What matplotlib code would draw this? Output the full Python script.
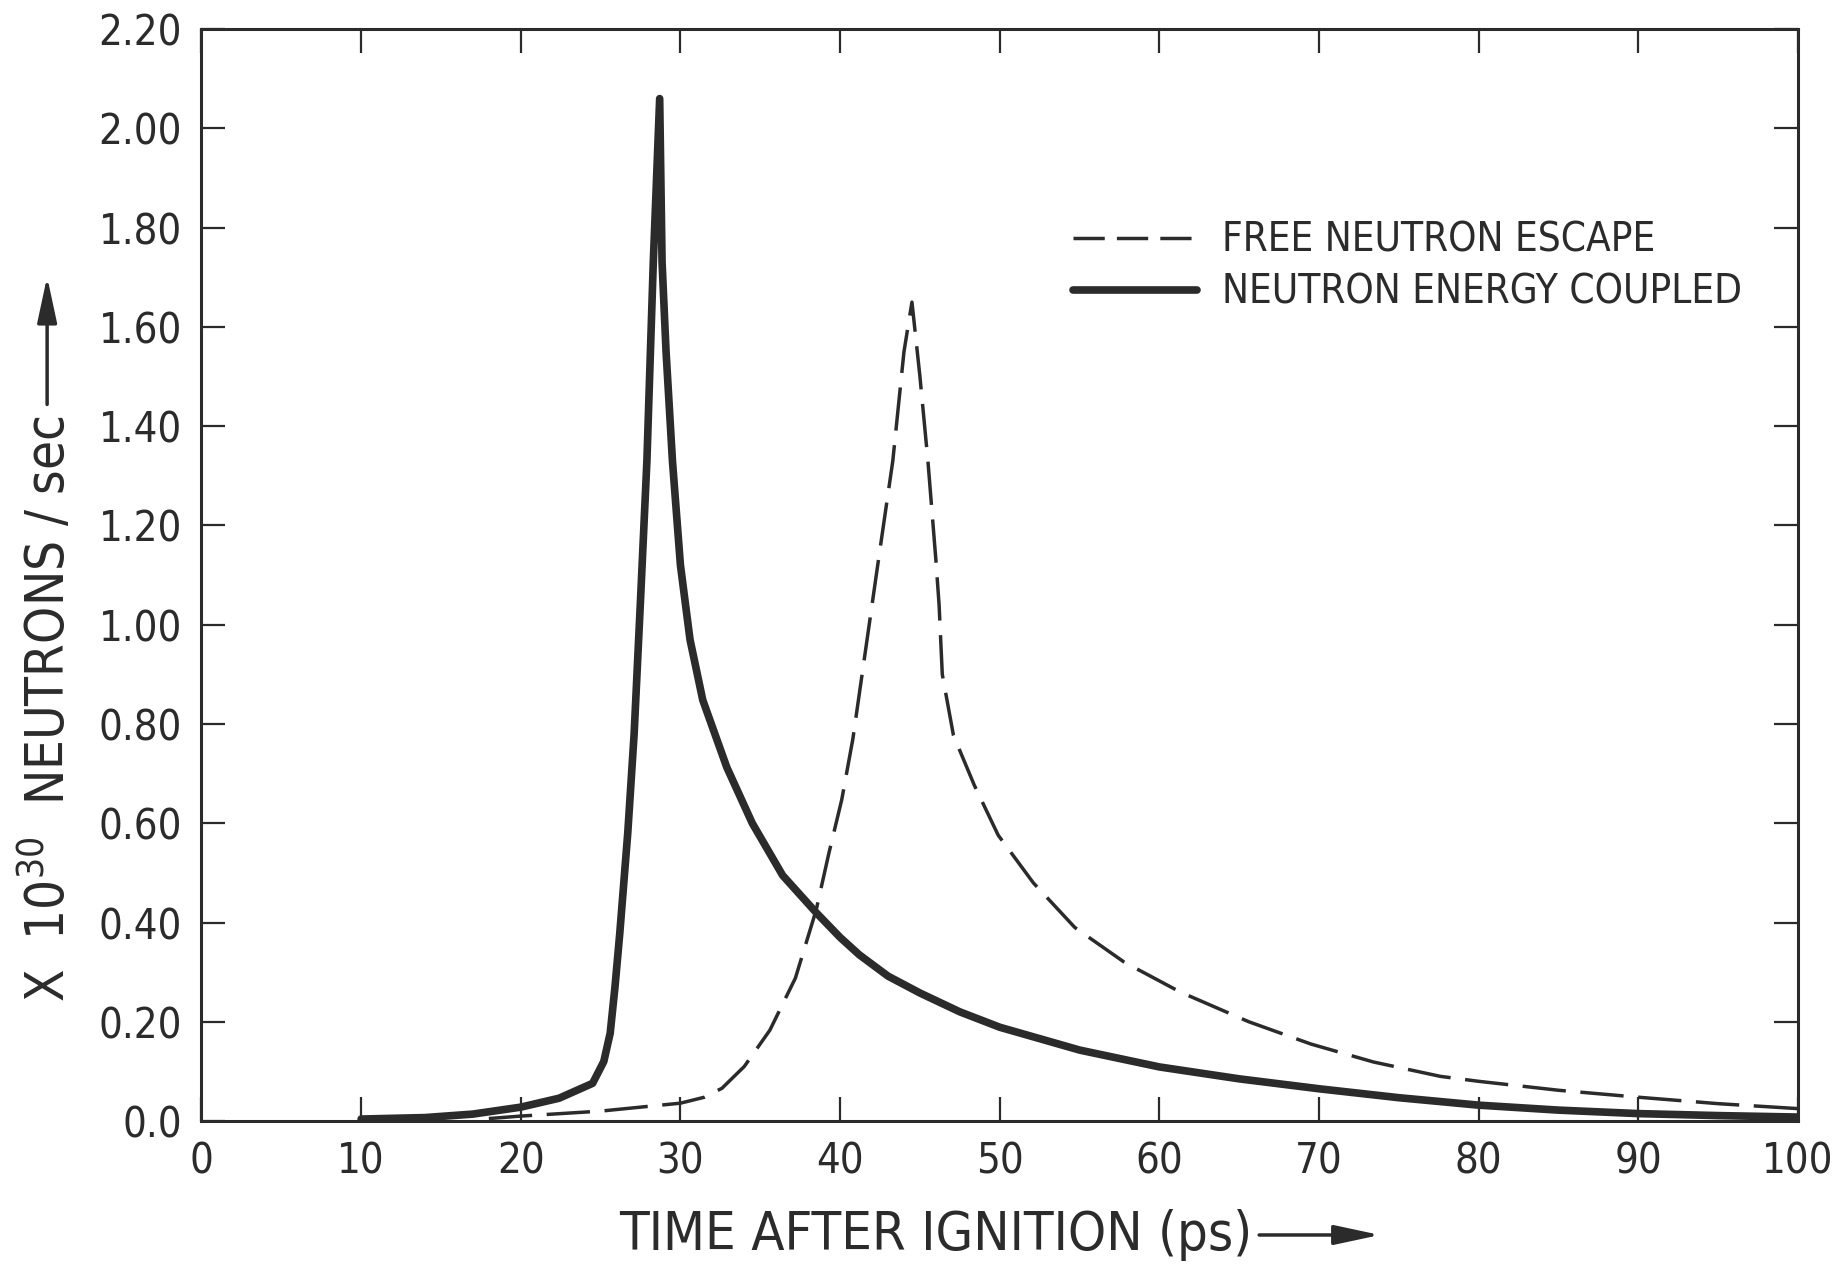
import numpy as np
import matplotlib
matplotlib.use("Agg")
from matplotlib import pyplot as plt
from matplotlib.text import OffsetFrom

# time after ignition (ps) and rate (x 1e30 neutrons/sec)
t_coupled = [10, 14, 17, 20, 22.4, 24.5, 25.2, 25.6, 25.9, 26.2, 26.7, 27.1,
             27.5, 27.9, 28.3, 28.7, 28.85, 29.1, 29.5, 30.0, 30.6, 31.4, 32.9,
             34.5, 36.4, 38.5, 40, 41.2, 43, 45, 47.5, 50, 55, 60, 65, 70, 75,
             80, 85, 90, 95, 100]
n_coupled = [0.004, 0.007, 0.014, 0.028, 0.046, 0.076, 0.12, 0.177, 0.27,
             0.378, 0.58, 0.78, 1.05, 1.33, 1.73, 2.06, 1.73, 1.55, 1.33, 1.12,
             0.97, 0.848, 0.713, 0.60, 0.495, 0.42, 0.37, 0.335, 0.292, 0.258,
             0.22, 0.189, 0.143, 0.109, 0.085, 0.065, 0.047, 0.032, 0.022,
             0.015, 0.011, 0.008]

t_free = [18, 20, 25, 30, 31.5, 32.6, 34, 35.6, 37.2, 38.5, 39.3, 40.1, 40.8,
          41.6, 42.4, 43.3, 44.0, 44.5, 45.0, 45.5, 46.0, 46.2, 46.4, 47.1,
          48.4, 49.9, 52.1, 54.7, 57.8, 61.3, 65.6, 69.5, 73.4, 77.6, 80, 85,
          90, 95, 100]
n_free = [0.005, 0.01, 0.02, 0.036, 0.048, 0.066, 0.11, 0.183, 0.288, 0.425,
          0.54, 0.647, 0.77, 0.95, 1.13, 1.33, 1.55, 1.65, 1.50, 1.33, 1.13,
          1.04, 0.90, 0.777, 0.677, 0.576, 0.48, 0.39, 0.32, 0.26, 0.20,
          0.155, 0.119, 0.09, 0.08, 0.062, 0.048, 0.035, 0.025]

x_ticks = list(range(0, 101, 10))
y_ticks = [0.0, 0.2, 0.4, 0.6, 0.8, 1.0, 1.2, 1.4, 1.6, 1.8, 2.0, 2.2]
y_ticklabels = ['0.0', '0.20', '0.40', '0.60', '0.80', '1.00', '1.20',
                '1.40', '1.60', '1.80', '2.00', '2.20']

ink = '#2b2b2b'
plt.rcParams['font.family'] = ['Liberation Sans Narrow', 'DejaVu Sans']
plt.rcParams['font.stretch'] = 'condensed'
plt.rcParams['mathtext.default'] = 'regular'
plt.rcParams['text.color'] = ink

fig = plt.figure(figsize=(18.48, 12.66), dpi=100)
ax = fig.add_axes([0.109, 0.1145, 0.864, 0.8625])

ax.plot(t_free, n_free, color=ink, lw=2.5, ls=(0, (12.5, 4.2)),
        label='FREE NEUTRON ESCAPE')
ax.plot(t_coupled, n_coupled, color=ink, lw=5.5, solid_capstyle='round',
        solid_joinstyle='round', label='NEUTRON ENERGY COUPLED')

ax.set_xlim(0, 100)
ax.set_ylim(0, 2.2)
ax.set_xticks(x_ticks)
ax.set_yticks(y_ticks)
ax.set_yticklabels(y_ticklabels)

for s in ax.spines.values():
    s.set_linewidth(2.2)
    s.set_color(ink)
ax.tick_params(which='major', direction='in', length=17, width=1.6,
               colors=ink, labelsize=30, top=True, right=True, pad=14)

leg = ax.legend(loc='upper left', bbox_to_anchor=(0.533, 0.843),
                frameon=False, fontsize=29, handlelength=3.1,
                handletextpad=0.6, labelspacing=0.3, borderpad=0)
leg.get_lines()[0].set_linestyle((0, (9, 3.5)))

# axis labels with hand drawn arrows
xlab = fig.text(0.335, 0.0245, 'TIME AFTER IGNITION (ps)', fontsize=39,
                ha='left', va='center')
ax.annotate('', xy=(92, 0), xycoords=OffsetFrom(xlab, (1, 0.5)),
            xytext=(5, 0), textcoords=OffsetFrom(xlab, (1, 0.5)),
            arrowprops=dict(arrowstyle='-|>,head_length=1.4,head_width=0.3',
                            lw=2.5, color=ink, mutation_scale=20,
                            shrinkA=0, shrinkB=0))

ylab = fig.text(0.0255, 0.44, 'X  $10^{30}$  NEUTRONS / sec', fontsize=38,
                rotation=90, ha='center', va='center')
ax.annotate('', xy=(0, 100), xycoords=OffsetFrom(ylab, (0.5, 1)),
            xytext=(0, 8), textcoords=OffsetFrom(ylab, (0.5, 1)),
            arrowprops=dict(arrowstyle='-|>,head_length=1.4,head_width=0.3',
                            lw=2.5, color=ink, mutation_scale=20,
                            shrinkA=0, shrinkB=0))

fig.savefig('out.png', dpi=100)
